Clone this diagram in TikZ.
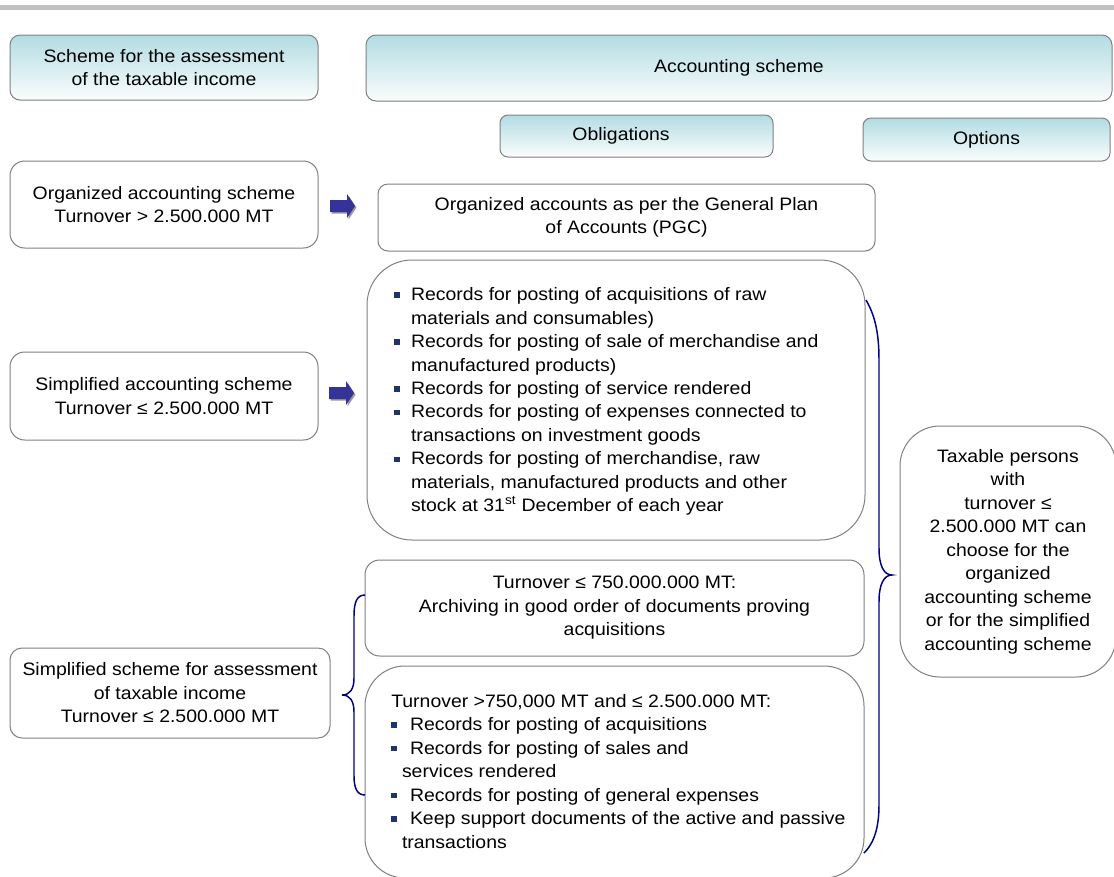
\documentclass[tikz,border=0pt]{standalone}
\usepackage{fontspec}
\setmainfont{Liberation Sans}[FakeStretch=1.08]
\definecolor{headtop}{RGB}{178,220,226}
\definecolor{edgegray}{RGB}{128,128,128}
\definecolor{topbar}{RGB}{192,192,192}
\definecolor{arrowblue}{RGB}{51,51,153}
\definecolor{arrowshade}{RGB}{150,150,160}
\definecolor{bracecol}{RGB}{0,0,128}
\definecolor{bulblue}{RGB}{31,50,110}
\newcommand\blt{\textcolor{bulblue}{\rule[0.16em]{0.3em}{0.3em}}}
\newcommand\blockarrow[2]{%
  \fill[arrowshade, shift={(#1+1.5,#2+1.5)}] (0,-6) -- (17,-6) -- (17,-12) -- (25,0) -- (17,12) -- (17,6) -- (0,6) -- cycle;
  \fill[arrowblue, shift={(#1,#2)}] (0,-6) -- (17,-6) -- (17,-12) -- (25,0) -- (17,12) -- (17,6) -- (0,6) -- cycle;}
\begin{document}
\begin{tikzpicture}[x=0.75pt, y=-0.75pt,
  every node/.style={font=\fontsize{13.5pt}{17.6pt}\selectfont, text=black},
  box/.style={draw=edgegray, line width=0.75pt, fill=white, align=center, inner sep=0pt},
  headbox/.style={box, top color=headtop, bottom color=headtop!6!white},
  plain/.style={align=center, inner sep=0pt},
  bracepath/.style={draw=bracecol, line width=1.1pt}]

% canvas
\useasboundingbox (0,0) rectangle (1114,876);
\fill[white] (0,0) rectangle (1114,876);
\fill[topbar] (0,5) rectangle (1114,10);

% column headers
\node[headbox, rounded corners=7.5pt, minimum width=231pt, minimum height=48.75pt] (assess) at (164,67.5)
  {Scheme for the assessment\\of the taxable income};
\node[headbox, rounded corners=7.5pt, minimum width=559.5pt, minimum height=49.5pt] (acc) at (739,68)
  {Accounting scheme};
\node[headbox, rounded corners=6pt, minimum width=204.75pt, minimum height=31.5pt] (oblig) at (636.5,136) {};
\node[plain] (obligtxt) at (621,136) {Obligations};
\node[headbox, rounded corners=6pt, minimum width=185.25pt, minimum height=32.25pt] (opt) at (986.5,139.5)
  {Options};

% left column
\node[box, rounded corners=11pt, minimum width=231pt, minimum height=65.25pt] (org) at (164,204.5)
  {Organized accounting scheme\\Turnover > 2.500.000 MT};
\node[box, rounded corners=11pt, minimum width=231pt, minimum height=66pt] (simpl) at (164,396)
  {Simplified accounting scheme\\Turnover ≤ 2.500.000 MT};
\node[box, rounded corners=9pt, minimum width=240pt, minimum height=67.5pt] (simpass) at (170,693)
  {Simplified scheme for assessment\\of taxable income\\Turnover ≤ 2.500.000 MT};

% obligations
\node[box, rounded corners=7.5pt, minimum width=372.75pt, minimum height=50.25pt] (orgacc) at (626.5,217.5)
  {Organized accounts as per the General Plan\\of Accounts (PGC)};

\node[box, rounded corners=33.75pt, minimum width=373.5pt, minimum height=210pt] (records) at (616,400) {};
\node[plain, anchor=west, align=left] (recordstxt) at (394,401.5) {%
  \begin{tabular}{@{}l@{\hspace{8.5pt}}l@{}}
  \blt & Records for posting of acquisitions of raw\\
       & materials and consumables)\\
  \blt & Records for posting of sale of merchandise and\\
       & manufactured products)\\
  \blt & Records for posting of service rendered\\
  \blt & Records for posting of expenses connected to\\
       & transactions on investment goods\\
  \blt & Records for posting of merchandise, raw\\
       & materials, manufactured products and other\\
       & stock at 31\textsuperscript{st} December of each year
  \end{tabular}};

\node[box, rounded corners=11pt, minimum width=374.25pt, minimum height=72pt] (t750) at (614.5,608)
  {Turnover ≤ 750.000.000 MT:\\Archiving in good order of documents proving\\acquisitions};

\node[box, rounded corners=30pt, minimum width=374.25pt, minimum height=159pt] (tbig) at (614.5,772) {};
\node[plain, anchor=west, align=left] (tbigtxt) at (391,773) {%
  \begin{tabular}{@{}l@{\hspace{10pt}}l@{}}
  \multicolumn{2}{@{}l@{}}{Turnover >750,000 MT and ≤ 2.500.000 MT:}\\
  \blt & Records for posting of acquisitions\\
  \blt & Records for posting of sales and\\
       & \hspace*{-6pt}services rendered\\
  \blt & Records for posting of general expenses\\
  \blt & Keep support documents of the active and passive\\
       & \hspace*{-6pt}transactions
  \end{tabular}};

% options
\node[box, rounded corners=30pt, minimum width=162pt, minimum height=188.25pt] (taxable) at (1008,551.5)
  {Taxable persons\\with\\turnover ≤\\2.500.000 MT can\\choose for the\\organized\\accounting scheme\\or for the simplified\\accounting scheme};

% block arrows from the schemes to their obligations
\blockarrow{330}{206}
\blockarrow{329}{393}

% brace grouping the two simplified assessment cases
\draw[bracepath] (365,595) .. controls (357,595) and (354,602) .. (354,616)
  -- (354,678) .. controls (354,689) and (350,695) .. (342,695)
  .. controls (350,695) and (354,701) .. (354,712)
  -- (354,776) .. controls (354,788) and (357,795) .. (365,795);

% brace grouping the simplified obligations towards the options
\draw[bracepath] (866,300) .. controls (874,314) and (879,330) .. (879,360)
  -- (879,548) .. controls (879,566) and (884,575) .. (892,575)
  .. controls (884,575) and (879,584) .. (879,602)
  -- (879,805) .. controls (879,832) and (872,845) .. (864,853);
\end{tikzpicture}
\end{document}
